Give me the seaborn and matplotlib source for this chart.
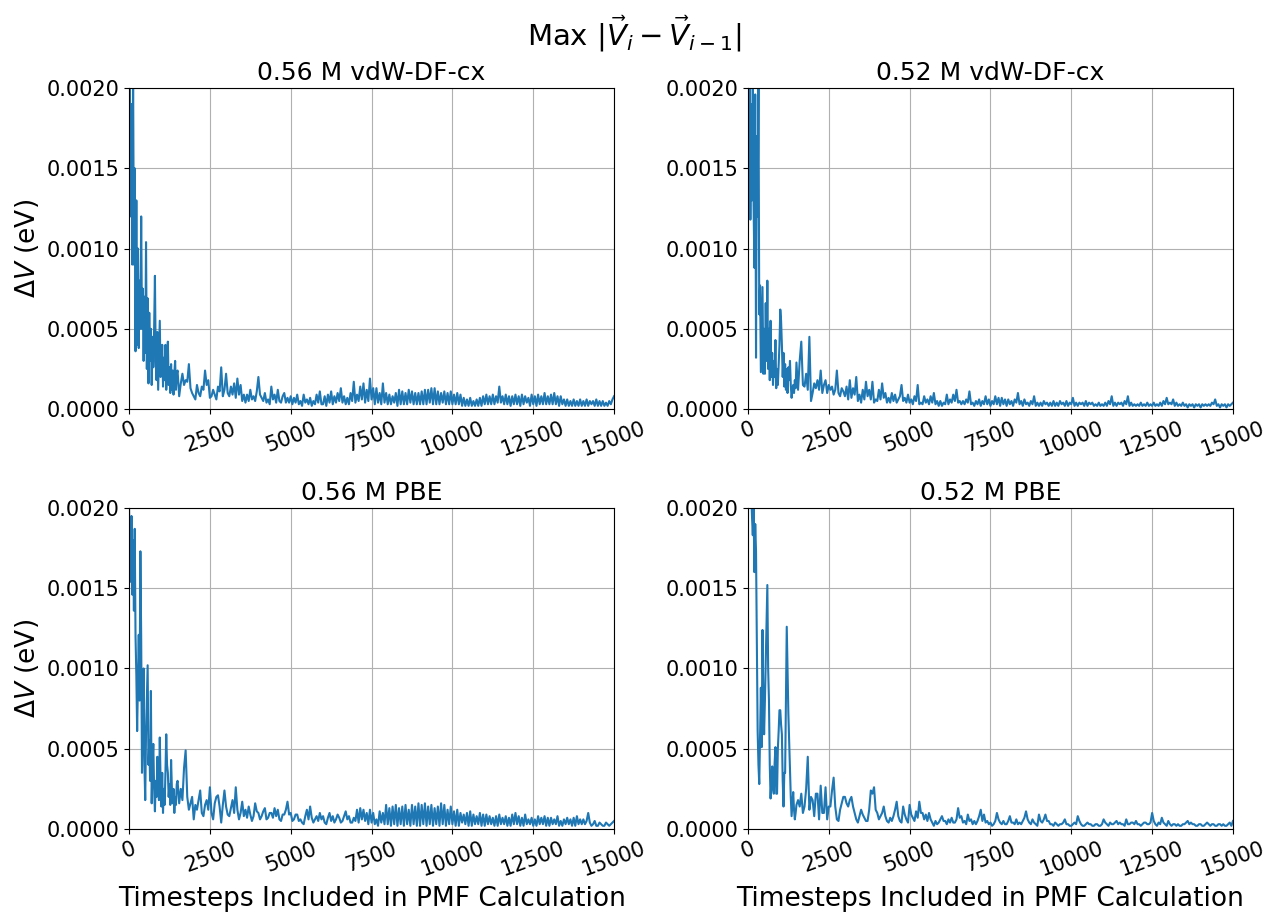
import numpy as np
import pandas as pd
import seaborn as sns
import matplotlib
matplotlib.use("Agg")
import matplotlib.pyplot as plt
from matplotlib.ticker import FormatStrFormatter

# values, in units of 1e-4 eV
# early: every 25 timesteps for 0 - 1475, then every 50 for 1500 - 2950
# late: every 50 timesteps for 3000 - 15000 (one row per 1000 timesteps)
cx056_early = [18, 20.5, 12, 19, 9, 21, 9, 15, 3.6, 13,
               4, 10, 3.8, 8, 5, 12, 5, 7.5, 3, 7,
               3.5, 10.4, 2.5, 6.9, 1.6, 6, 3, 5, 1.5, 4.5,
               2.6, 5, 8.3, 3, 1.8, 4.8, 1.2, 3.5, 5.5, 2,
               2.5, 4, 1.4, 3.2, 1.8, 4, 1.2, 2.5, 4.2, 1.5,
               2.6, 1.0, 2.8, 1.2, 2.4, 0.9, 2.2, 3.0, 1.2, 2.2,
               2.4, 0.8, 1.6, 2.2, 1.5, 1.8, 1.7, 2.8, 1.3, 1.0,
               0.8, 0.6, 1.5, 1.0, 0.8, 1.4, 1.2, 2.4, 1.5, 1.8,
               0.7, 0.8, 1.2, 0.9, 0.6, 1.4, 1.1, 2.6, 0.8, 1.2]
cx056_late = [2.2, 1.0, 0.8, 1.4, 0.9, 1.6, 0.7, 1.9, 0.9, 1.5, 0.5, 0.9, 0.4, 0.9, 0.5, 1.2, 0.6, 0.8, 0.5, 1.1,
              2.0, 0.9, 0.7, 0.5, 1.0, 0.4, 0.6, 0.3, 1.4, 0.6, 0.9, 0.4, 1.2, 0.5, 0.4, 0.8, 1.0, 0.4, 0.7, 0.4,
              0.8, 0.3, 0.7, 0.4, 0.9, 0.3, 0.5, 0.2, 0.9, 0.4, 0.6, 0.3, 0.7, 0.2, 0.5, 0.3, 0.9, 0.4, 1.1, 0.3,
              0.3, 0.8, 0.2, 0.9, 0.4, 1.1, 0.3, 0.8, 0.4, 1.0, 0.5, 1.3, 0.4, 0.8, 0.3, 0.7, 0.3, 1.0, 0.5, 1.7,
              0.4, 0.9, 0.5, 1.4, 0.6, 1.6, 0.4, 1.2, 0.5, 1.9, 0.6, 1.3, 0.3, 1.3, 0.4, 1.0, 0.3, 1.6, 0.4, 1.0,
              0.3, 0.9, 0.3, 0.8, 0.4, 1.0, 0.2, 1.2, 0.3, 1.1, 0.3, 1.0, 0.3, 1.2, 0.4, 1.1, 0.3, 1.0, 0.3, 1.0,
              0.3, 1.1, 0.3, 1.2, 0.3, 1.2, 0.4, 1.3, 0.3, 1.3, 0.3, 1.1, 0.3, 1.0, 0.4, 1.1, 0.3, 1.0, 0.3, 1.1,
              0.3, 0.9, 0.3, 1.0, 0.3, 0.9, 0.2, 0.7, 0.2, 0.6, 0.2, 0.7, 0.2, 0.5, 0.2, 0.6, 0.2, 0.7, 0.2, 0.8,
              0.3, 0.9, 0.3, 0.8, 0.3, 0.9, 0.3, 0.8, 0.4, 1.4, 0.4, 0.8, 0.3, 0.9, 0.3, 0.8, 0.2, 0.8, 0.3, 0.9,
              0.3, 0.8, 0.2, 0.9, 0.3, 0.8, 0.4, 0.7, 0.2, 0.9, 0.3, 0.8, 0.2, 0.9, 0.3, 0.8, 0.3, 1.0, 0.3, 0.8,
              0.3, 0.9, 0.3, 1.0, 0.3, 0.8, 0.2, 0.8, 0.3, 0.6, 0.2, 0.6, 0.2, 0.5, 0.2, 0.6, 0.2, 0.5, 0.2, 0.6,
              0.2, 0.5, 0.2, 0.6, 0.2, 0.5, 0.3, 0.5, 0.2, 0.6, 0.2, 0.5, 0.2, 0.5, 0.2, 0.4, 0.2, 0.5, 0.3, 0.6,
              0.8]

cx052_early = [20.5, 14, 21, 11.8, 19, 13, 20, 12.7, 8.8, 19.6,
               3.2, 17, 12, 20.5, 5.9, 7.7, 2.3, 5, 7.6, 2.2,
               5, 2.2, 6.6, 3, 8, 2.5, 5, 1.8, 5.5, 2,
               3.5, 1.5, 3, 2, 4.3, 1.3, 2.5, 1.5, 2.8, 4,
               6.2, 5.5, 4, 2, 3.5, 1.4, 2.8, 1.2, 2.5, 1.0,
               2.6, 1.8, 3.0, 1.5, 0.7, 1.2, 1.5, 1.0, 1.8, 1.3,
               2.9, 1.2, 3.0, 4.2, 1.5, 1.4, 2.2, 1.2, 4.5, 0.5,
               1.0, 1.6, 1.3, 1.8, 1.2, 2.4, 1.0, 1.5, 1.8, 1.0,
               1.5, 1.2, 1.4, 0.9, 1.2, 2.4, 1.0, 0.8, 1.3, 1.1]
cx052_late = [0.8, 1.4, 0.6, 1.8, 0.7, 1.3, 0.9, 2.0, 0.5, 0.9, 0.4, 1.2, 0.6, 1.7, 0.8, 1.2, 0.6, 1.7, 0.4, 0.6,
              0.5, 1.2, 0.6, 1.6, 0.7, 1.0, 0.4, 0.7, 0.4, 1.0, 0.5, 0.9, 0.4, 0.6, 0.8, 1.5, 0.5, 0.7, 0.4, 0.9,
              0.4, 0.6, 0.3, 0.8, 0.5, 1.5, 0.3, 0.4, 0.3, 0.8, 0.4, 0.6, 0.3, 0.8, 0.4, 1.0, 0.3, 0.5, 0.2, 0.5,
              0.2, 0.4, 0.3, 0.9, 0.3, 0.6, 0.4, 0.9, 0.5, 1.2, 0.4, 0.5, 0.3, 0.5, 0.3, 0.6, 0.4, 1.1, 0.3, 0.4,
              0.2, 0.5, 0.3, 0.6, 0.2, 0.5, 0.3, 0.8, 0.3, 0.6, 0.2, 0.5, 0.3, 0.8, 0.3, 0.7, 0.2, 0.7, 0.3, 0.6,
              0.2, 0.6, 0.3, 0.5, 0.2, 0.6, 0.4, 1.0, 0.3, 0.5, 0.2, 0.6, 0.3, 0.4, 0.2, 0.5, 0.3, 0.8, 0.2, 0.4,
              0.2, 0.4, 0.2, 0.5, 0.3, 0.4, 0.2, 0.4, 0.2, 0.5, 0.2, 0.4, 0.2, 0.5, 0.3, 0.4, 0.2, 0.5, 0.2, 0.4,
              0.3, 0.7, 0.2, 0.4, 0.2, 0.4, 0.3, 0.4, 0.2, 0.5, 0.2, 0.4, 0.3, 0.4, 0.2, 0.3, 0.2, 0.4, 0.2, 0.3,
              0.2, 0.4, 0.2, 0.5, 0.3, 0.8, 0.2, 0.4, 0.2, 0.4, 0.3, 0.4, 0.2, 0.5, 0.3, 0.8, 0.2, 0.4, 0.2, 0.3,
              0.2, 0.3, 0.2, 0.4, 0.2, 0.3, 0.2, 0.4, 0.2, 0.3, 0.2, 0.4, 0.2, 0.3, 0.2, 0.4, 0.2, 0.5, 0.3, 0.7,
              0.3, 0.4, 0.3, 0.6, 0.2, 0.4, 0.2, 0.3, 0.2, 0.4, 0.2, 0.3, 0.1, 0.3, 0.2, 0.3, 0.1, 0.3, 0.2, 0.3,
              0.1, 0.3, 0.2, 0.3, 0.2, 0.3, 0.2, 0.4, 0.3, 0.6, 0.2, 0.3, 0.1, 0.3, 0.2, 0.3, 0.1, 0.3, 0.2, 0.3,
              0.4]

pbe056_early = [20, 16, 15.4, 19.5, 14.6, 18, 13.6, 18.7, 12, 9.6,
                6.1, 9, 12.1, 8, 17.3, 12, 3.5, 7, 10, 4,
                1.8, 6, 8, 10.2, 4, 5.5, 3, 8.6, 1.6, 4,
                5.3, 2.5, 1.1, 3, 2, 4.5, 2.5, 1.8, 5.7, 3,
                1.4, 3.5, 1.0, 2.5, 1.5, 3.5, 5.9, 4, 3.5, 2,
                2.8, 1.5, 4.3, 2.5, 1.6, 2.5, 1.0, 2.0, 1.5, 2.8,
                3.0, 1.6, 2.5, 1.8, 3.8, 4.9, 2.0, 1.2, 1.6, 2.0,
                0.6, 1.5, 1.2, 1.8, 2.4, 1.0, 0.8, 1.5, 1.8, 1.2,
                2.6, 1.0, 0.6, 1.6, 2.0, 2.1, 1.4, 0.4, 1.5, 2.4]
pbe056_late = [1.4, 0.9, 0.8, 1.3, 1.8, 1.0, 2.6, 1.2, 0.6, 1.0, 1.7, 0.8, 1.2, 0.7, 1.4, 0.9, 0.5, 0.8, 1.6, 1.1,
               1.0, 0.6, 0.8, 1.1, 1.3, 0.6, 0.7, 1.0, 1.0, 0.7, 1.3, 0.8, 1.2, 0.6, 0.5, 0.9, 0.9, 1.2, 1.7, 0.9,
               1.0, 0.5, 0.6, 0.9, 0.9, 0.5, 0.6, 0.4, 0.3, 0.8, 1.2, 0.6, 1.4, 0.7, 0.4, 0.6, 0.8, 0.5, 1.0, 0.6,
               0.8, 0.4, 0.3, 0.7, 1.0, 0.5, 0.8, 0.4, 0.6, 0.9, 0.7, 0.4, 0.5, 0.8, 1.1, 0.6, 0.8, 0.4, 0.4, 0.7,
               0.5, 1.2, 0.4, 1.3, 0.6, 1.2, 0.5, 1.0, 0.3, 1.2, 0.4, 1.0, 0.3, 0.6, 0.2, 1.1, 0.4, 1.0, 0.3, 1.5,
               0.3, 1.3, 0.2, 1.4, 0.3, 1.5, 0.2, 1.3, 0.3, 1.4, 0.2, 1.5, 0.3, 1.2, 0.2, 1.5, 0.3, 1.4, 0.2, 1.6,
               0.2, 1.5, 0.3, 1.6, 0.2, 1.4, 0.3, 1.5, 0.2, 1.3, 0.3, 1.4, 0.2, 1.6, 0.3, 1.5, 0.2, 1.2, 0.3, 1.4,
               0.3, 1.1, 0.2, 1.2, 0.2, 1.0, 0.4, 0.9, 0.3, 1.0, 0.2, 1.1, 0.2, 0.9, 0.3, 0.8, 0.3, 1.0, 0.2, 0.9,
               0.2, 0.9, 0.3, 0.8, 0.3, 0.7, 0.2, 0.8, 0.2, 0.9, 0.3, 0.7, 0.3, 0.8, 0.2, 0.7, 0.2, 0.9, 0.3, 1.0,
               0.3, 0.8, 0.2, 0.7, 0.2, 0.9, 0.3, 0.6, 0.3, 0.7, 0.2, 0.6, 0.2, 0.8, 0.3, 0.7, 0.3, 0.8, 0.2, 0.7,
               0.2, 0.7, 0.3, 0.6, 0.3, 0.8, 0.2, 0.5, 0.2, 0.6, 0.3, 0.7, 0.3, 0.6, 0.2, 0.7, 0.2, 0.8, 0.3, 0.6,
               0.3, 0.6, 0.3, 0.5, 1.0, 0.4, 0.2, 0.3, 0.5, 0.2, 0.2, 0.4, 0.3, 0.2, 0.2, 0.4, 0.3, 0.2, 0.3, 0.4,
               0.5]

pbe052_early = [26, 25, 24, 22, 21, 19.5, 18.3, 20, 16, 19,
                17.3, 12, 6.1, 4, 2.8, 6, 8.8, 5.1, 12.4, 8,
                5.9, 8, 10.5, 13, 15.2, 10, 8.0, 4, 1.9, 3,
                3.9, 2.5, 2.2, 4.1, 5.1, 2.2, 2.2, 5, 6.1, 7.4,
                7.4, 6.5, 5.9, 3, 1.4, 3.5, 3.5, 8, 12.6, 10,
                7.2, 5.5, 3.7, 2.0, 0.8, 1.6, 2.3, 1.2, 0.6, 1.0,
                1.5, 1.8, 1.4, 2.2, 1.0, 1.4, 2.5, 4.5, 1.2, 2.0,
                1.8, 0.8, 2.2, 2.2, 0.6, 2.7, 1.0, 1.0, 2.6, 0.6,
                1.4, 1.4, 2.4, 3.2, 1.4, 0.6, 0.5, 1.2, 1.6, 2.0]
pbe052_late = [2.0, 1.6, 1.4, 1.8, 2.0, 1.4, 1.0, 0.6, 0.4, 0.8, 1.2, 0.9, 0.7, 0.5, 0.5, 1.2, 2.4, 2.2, 2.6, 1.2,
               1.0, 0.6, 0.8, 1.0, 1.4, 0.8, 0.5, 0.4, 0.7, 0.5, 0.8, 1.2, 1.7, 0.8, 0.5, 0.4, 1.4, 0.9, 0.6, 0.4,
               1.5, 0.9, 0.7, 0.5, 1.1, 0.7, 1.7, 1.0, 1.0, 0.6, 0.9, 0.5, 1.0, 0.6, 0.4, 0.2, 0.5, 0.3, 0.4, 0.6,
               0.8, 0.5, 0.5, 0.3, 0.6, 0.4, 0.7, 0.4, 0.4, 0.6, 1.3, 0.7, 0.8, 0.4, 0.5, 0.3, 0.9, 0.5, 0.6, 0.3,
               0.5, 0.3, 0.5, 0.8, 1.2, 0.5, 0.9, 0.4, 0.5, 0.3, 0.4, 0.2, 0.3, 0.5, 1.0, 0.6, 0.4, 0.3, 0.5, 0.3,
               0.3, 0.5, 0.8, 0.4, 0.4, 0.3, 0.6, 0.3, 0.4, 0.3, 0.5, 0.7, 1.1, 0.6, 0.4, 0.3, 0.6, 0.4, 0.3, 0.2,
               0.9, 0.5, 0.4, 0.6, 0.9, 0.5, 0.5, 0.3, 0.3, 0.2, 0.4, 0.3, 0.2, 0.3, 0.3, 0.4, 0.6, 0.3, 0.3, 0.2,
               0.2, 0.3, 0.4, 0.3, 0.8, 0.5, 0.3, 0.2, 0.2, 0.3, 0.4, 0.3, 0.3, 0.2, 0.2, 0.3, 0.3, 0.2, 0.2, 0.3,
               0.6, 0.4, 0.3, 0.2, 0.4, 0.3, 0.3, 0.4, 0.5, 0.3, 0.4, 0.3, 0.3, 0.2, 0.6, 0.3, 0.3, 0.4, 0.4, 0.3,
               0.5, 0.3, 0.3, 0.2, 0.3, 0.4, 0.4, 0.3, 0.3, 0.4, 1.0, 0.5, 0.3, 0.2, 0.4, 0.3, 0.7, 0.4, 0.3, 0.2,
               0.5, 0.3, 0.2, 0.3, 0.3, 0.2, 0.3, 0.2, 0.2, 0.3, 0.3, 0.4, 0.5, 0.3, 0.4, 0.3, 0.3, 0.2, 0.2, 0.3,
               0.3, 0.2, 0.2, 0.3, 0.4, 0.3, 0.2, 0.3, 0.3, 0.2, 0.2, 0.3, 0.3, 0.2, 0.3, 0.2, 0.2, 0.3, 0.4, 0.2,
               0.5]

titles = ["0.56 M vdW-DF-cx", "0.52 M vdW-DF-cx", "0.56 M PBE", "0.52 M PBE"]
series = [(cx056_early, cx056_late), (cx052_early, cx052_late),
          (pbe056_early, pbe056_late), (pbe052_early, pbe052_late)]

early_steps = np.concatenate([np.arange(0, 1500, 25), np.arange(1500, 3000, 50)])
late_steps = np.arange(3000, 15001, 50)

frames = []
for title, (early, late) in zip(titles, series):
    df = pd.DataFrame({
        "timestep": np.concatenate([early_steps[:len(early)], late_steps[:len(late)]]),
        "dV": np.array(list(early) + list(late)) * 1e-4,
    })
    df["run"] = title
    frames.append(df)
data = pd.concat(frames, ignore_index=True)

fig, axes = plt.subplots(2, 2, figsize=(12.69, 9.13), dpi=100)
fig.subplots_adjust(left=0.1017, right=0.9716, bottom=0.092, top=0.9036,
                    wspace=0.276, hspace=0.308)

for ax, title in zip(axes.flat, titles):
    sub = data[data["run"] == title]
    sns.lineplot(data=sub, x="timestep", y="dV", ax=ax, color="tab:blue", linewidth=1.5)
    ax.set_xlim(0, 15000)
    ax.set_ylim(0, 0.002)
    ax.set_xticks([0, 2500, 5000, 7500, 10000, 12500, 15000])
    ax.set_yticks([0, 0.0005, 0.001, 0.0015, 0.002])
    ax.yaxis.set_major_formatter(FormatStrFormatter("%.4f"))
    ax.tick_params(axis="x", labelrotation=20, labelsize=15)
    ax.tick_params(axis="y", labelsize=15)
    ax.grid(True)
    ax.set_title(title, fontsize=18)
    ax.set_xlabel("")
    ax.set_ylabel("")

for ax in axes[:, 0]:
    ax.set_ylabel(r"$\Delta V$ (eV)", fontsize=19)
for ax in axes[1, :]:
    ax.set_xlabel("Timesteps Included in PMF Calculation", fontsize=19)

fig.suptitle(r"Max $|\vec{V}_i - \vec{V}_{i-1}|$", fontsize=21, y=0.985)

plt.savefig("out.png", dpi=100)
